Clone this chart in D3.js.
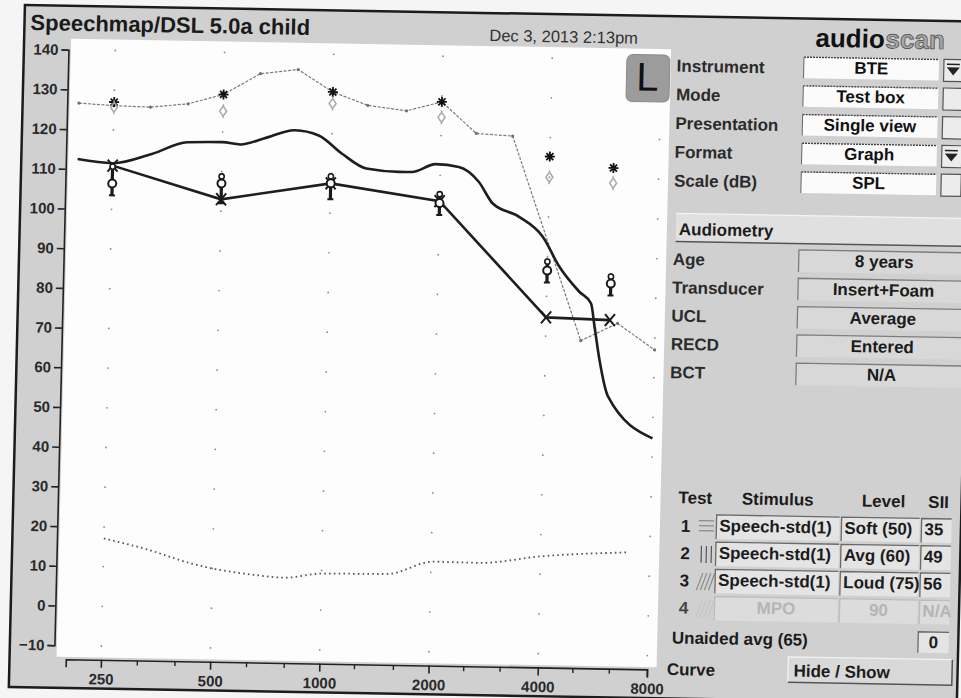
<!DOCTYPE html>
<html>
<head>
<meta charset="utf-8">
<title>Speechmap/DSL 5.0a child</title>
<script src="https://d3js.org/d3.v7.min.js"></script>
<style>
  html, body { margin: 0; padding: 0; background: #f4f4f4; }
  svg { display: block; }
  text { font-family: "Liberation Sans", Arial, sans-serif; }
</style>
</head>
<body>
<div id="chart"></div>
<script>
// ---- values ----
const majorFreqs = [250, 500, 1000, 2000, 4000, 8000];
const minorFreqs = [315, 400, 630, 800, 1250, 1600, 2500, 3150, 5000, 6300];
const dbTicks = [-10, 0, 10, 20, 30, 40, 50, 60, 70, 80, 90, 100, 110, 120, 130, 140];

// grey thin curve (MPO / UCL line)
const mpoFreq = [200, 250, 315, 400, 500, 630, 800, 1000, 1250, 1600, 2000, 2500, 3150, 5000, 6300, 8000];
const mpoDb   = [126.6, 126.1, 125.9, 126.9, 129.4, 134.8, 136.0, 130.5, 127.3, 126.1, 128.5, 120.7, 120.2, 69.0, 73.5, 67.0];

// black smooth curve
const curveFreq = [200, 250, 320, 400, 500, 560, 650, 790, 920, 1070, 1250, 1540, 1670, 1940, 2250, 2560, 2800, 3320, 3870, 4320, 4920, 5310, 5450, 5650, 6000, 8000];
const curveDb   = [112.5, 111.6, 114.1, 117.2, 117.4, 116.9, 118.5, 120.7, 119.5, 115.0, 111.4, 110.7, 110.7, 112.8, 112.2, 108.5, 103.2, 99.9, 95.0, 87.5, 81.3, 78.4, 72.5, 64.2, 55.0, 44.7];

// thresholds (X markers)
const threshFreq = [250, 500, 1000, 2000, 4000, 6000];
const threshDb   = [111.0, 103.0, 107.5, 103.5, 74.7, 74.3];

// DSL targets
const targetFreq = [250, 500, 1000, 2000, 4000, 6000];
const targetSoft = [103.5, 102.0, 103.5, 100.0, 83.5, 80.5];
const targetAvg  = [106.5, 107.0, 107.5, 103.0, 86.5, 83.5];
const targetLoud = [111.5, 109.5, 110.0, 106.0, 89.5, 86.0];
const uclStar    = [127.0, 129.4, 130.5, 128.5, 115.2, 112.6];
const uclDiamond = [125.7, 125.2, 127.6, 124.6, 110.0, 108.8];

// dotted curve near the bottom
const normFreq = [250, 330, 440, 500, 650, 790, 1000, 1520, 2030, 2730, 4000, 7000];
const normDb   = [17.1, 14.5, 11.1, 10.0, 8.6, 8.0, 9.2, 9.4, 12.7, 12.6, 14.5, 15.9];

// side panel
const settingLabels = ["Instrument", "Mode", "Presentation", "Format", "Scale (dB)"];
const settingValues = ["BTE", "Test box", "Single view", "Graph", "SPL"];
const settingIcons  = ["drop", "box", "box", "drop", "box"];
const audioLabels = ["Age", "Transducer", "UCL", "RECD", "BCT"];
const audioValues = ["8 years", "Insert+Foam", "Average", "Entered", "N/A"];
const testNums     = ["1", "2", "3", "4"];
const testStimulus = ["Speech-std(1)", "Speech-std(1)", "Speech-std(1)", "MPO"];
const testLevel    = ["Soft (50)", "Avg (60)", "Loud (75)", "90"];
const testSII      = ["35", "49", "56", "N/A"];

const W = 961, H = 698;
const font = '"Liberation Sans", Arial, sans-serif';

const svg = d3.select("#chart").append("svg")
    .attr("width", W)
    .attr("height", H);

svg.append("rect").attr("width", W).attr("height", H).attr("fill", "#f5f5f5");

// the photographed screen is slightly tilted
const g = svg.append("g")
    .attr("transform", "matrix(1,0.0175,-0.0236,1,8.24,-8.4)");

// screen frame
g.append("rect")
    .attr("x", 17).attr("y", 13)
    .attr("width", 948).attr("height", 682)
    .attr("fill", "#d0d0d0")
    .attr("stroke", "#1c1c1c")
    .attr("stroke-width", 2.5);

// header
g.append("text")
    .attr("x", 23).attr("y", 38)
    .style("font-size", "22px").style("font-weight", "bold")
    .attr("fill", "#1a1a1a")
    .text("Speechmap/DSL 5.0a child");

g.append("text")
    .attr("x", 482).attr("y", 41)
    .style("font-size", "16.5px")
    .attr("fill", "#333")
    .text("Dec 3, 2013 2:13pm");

// logo: "audio" solid, "scan" in the lighter outlined style
g.append("text")
    .attr("x", 808).attr("y", 41)
    .style("font-size", "26px").style("font-weight", "bold")
    .attr("fill", "#111")
    .text("audio");
g.append("text")
    .attr("x", 878).attr("y", 41)
    .style("font-size", "26px").style("font-weight", "bold")
    .attr("fill", "#a6a6a6").attr("stroke", "#4a4a4a").attr("stroke-width", 0.7)
    .text("scan");

// scales
const x = d3.scaleLog().domain([200, 8000]).range([73.3, 654.5]);
const y = d3.scaleLinear().domain([-10, 140]).range([652.5, 57]);

// plot area
g.append("rect")
    .attr("x", 64).attr("y", 46)
    .attr("width", 600).attr("height", 618)
    .attr("fill", "#fdfdfd");

// grid dots
g.append("g").selectAll("circle")
    .data(d3.cross(majorFreqs, dbTicks))
    .join("circle")
    .attr("cx", d => x(d[0]))
    .attr("cy", d => y(d[1]))
    .attr("r", 0.9)
    .attr("fill", "#8c8c8c");

// y axis
const yAxis = g.append("g")
    .attr("transform", "translate(61.6,0)")
    .call(d3.axisLeft(y).tickValues(dbTicks).tickSize(7).tickPadding(3));
yAxis.attr("font-family", font).attr("font-size", 15).attr("font-weight", "bold");
yAxis.selectAll("path, line").attr("stroke", "#222").attr("stroke-width", 1.6);
yAxis.selectAll("text").attr("fill", "#2a2a2a");

// x axis
const xAxis = g.append("g")
    .attr("transform", "translate(0,666.3)")
    .call(d3.axisBottom(x).tickValues(majorFreqs).tickFormat(d3.format("d"))
        .tickSize(8).tickSizeOuter(8).tickPadding(6));
xAxis.attr("font-family", font).attr("font-size", 15).attr("font-weight", "bold");
xAxis.selectAll("path, line").attr("stroke", "#222").attr("stroke-width", 1.6);
xAxis.selectAll("text").attr("fill", "#2a2a2a");

xAxis.append("g").selectAll("line")
    .data(minorFreqs)
    .join("line")
    .attr("x1", d => x(d)).attr("x2", d => x(d))
    .attr("y1", 0).attr("y2", 5)
    .attr("stroke", "#222").attr("stroke-width", 1.4);

const line = d3.line().x(d => x(d[0])).y(d => y(d[1]));
const smooth = d3.line().x(d => x(d[0])).y(d => y(d[1])).curve(d3.curveMonotoneX);

// dotted curve
g.append("path")
    .attr("d", smooth(d3.zip(normFreq, normDb)))
    .attr("fill", "none")
    .attr("stroke", "#555")
    .attr("stroke-width", 1.8)
    .attr("stroke-dasharray", "1.6,3.2");

// grey MPO line with small vertex dots
g.append("path")
    .attr("d", line(d3.zip(mpoFreq, mpoDb)))
    .attr("fill", "none")
    .attr("stroke", "#7a7a7a")
    .attr("stroke-width", 1.2)
    .attr("stroke-dasharray", "3,1.5");
g.append("g").selectAll("circle")
    .data(d3.zip(mpoFreq, mpoDb))
    .join("circle")
    .attr("cx", d => x(d[0])).attr("cy", d => y(d[1]))
    .attr("r", 1.6).attr("fill", "#707070");

// black smooth curve
g.append("path")
    .attr("d", smooth(d3.zip(curveFreq, curveDb)))
    .attr("fill", "none")
    .attr("stroke", "#1e1e1e")
    .attr("stroke-width", 2.6)
    .attr("stroke-linejoin", "round");

// threshold line + X
g.append("path")
    .attr("d", line(d3.zip(threshFreq, threshDb)))
    .attr("fill", "none")
    .attr("stroke", "#1e1e1e")
    .attr("stroke-width", 2.6);
const xMarks = g.append("g").selectAll("g")
    .data(d3.zip(threshFreq, threshDb))
    .join("g")
    .attr("transform", d => `translate(${x(d[0])},${y(d[1])})`);
xMarks.append("path")
    .attr("d", "M-5,-6L5,6M5,-6L-5,6")
    .attr("stroke", "#1e1e1e").attr("stroke-width", 2);

// targets
const tg = g.append("g").selectAll("g")
    .data(targetFreq.map((f, i) => ({ f, soft: targetSoft[i], avg: targetAvg[i], loud: targetLoud[i] })))
    .join("g");
tg.append("line")
    .attr("x1", d => x(d.f)).attr("x2", d => x(d.f))
    .attr("y1", d => y(d.soft)).attr("y2", d => y(d.loud))
    .attr("stroke", "#1a1a1a").attr("stroke-width", 3.2);
tg.append("line")
    .attr("x1", d => x(d.f) - 3).attr("x2", d => x(d.f) + 3)
    .attr("y1", d => y(d.soft)).attr("y2", d => y(d.soft))
    .attr("stroke", "#1a1a1a").attr("stroke-width", 2);
tg.append("circle")
    .attr("cx", d => x(d.f)).attr("cy", d => y(d.loud) + 3)
    .attr("r", 2.6)
    .attr("fill", "#fff").attr("stroke", "#1a1a1a").attr("stroke-width", 1.6);
tg.append("circle")
    .attr("cx", d => x(d.f)).attr("cy", d => y(d.avg))
    .attr("r", 4)
    .attr("fill", "#fff").attr("stroke", "#1a1a1a").attr("stroke-width", 2);

// UCL stars and grey diamonds
g.append("g").selectAll("path")
    .data(targetFreq.map((f, i) => [f, uclStar[i]]))
    .join("path")
    .attr("transform", d => `translate(${x(d[0])},${y(d[1])})`)
    .attr("d", "M0,-5V5M-5,0H5M-3.5,-3.5L3.5,3.5M3.5,-3.5L-3.5,3.5")
    .attr("stroke", "#111").attr("stroke-width", 1.8);
g.append("g").selectAll("path")
    .data(targetFreq.map((f, i) => [f, uclDiamond[i]]))
    .join("path")
    .attr("transform", d => `translate(${x(d[0])},${y(d[1])})`)
    .attr("d", "M0,-5L3.5,0L0,5L-3.5,0Z M0,-7V-5 M0,5V7")
    .attr("fill", "none")
    .attr("stroke", "#a8a8a8").attr("stroke-width", 1.5);

// L badge
g.append("rect")
    .attr("x", 620).attr("y", 52)
    .attr("width", 43).attr("height", 47)
    .attr("rx", 6)
    .attr("fill", "#9c9c9c").attr("stroke", "#8a8a8a");
g.append("text")
    .attr("x", 641).attr("y", 88)
    .attr("text-anchor", "middle")
    .style("font-size", "40px")
    .attr("fill", "#111")
    .text("L");

// settings block
const rowY = [68.3, 97, 125.7, 154.4, 183.1];
const labelStyle = sel => sel.style("font-size", "17px").style("font-weight", "bold").attr("fill", "#2b2b2b");

settingLabels.forEach((t, i) => {
    g.append("text").attr("x", 670).attr("y", rowY[i]).call(labelStyle).text(t);
    g.append("rect")
        .attr("x", 797).attr("y", rowY[i] - 16.7)
        .attr("width", 135).attr("height", 21)
        .attr("fill", "#fbfbfb");
    g.append("line")
        .attr("x1", 797).attr("x2", 932)
        .attr("y1", rowY[i] - 16.7).attr("y2", rowY[i] - 16.7)
        .attr("stroke", "#444").attr("stroke-width", 1.4)
        .attr("stroke-dasharray", "2,1");
    g.append("line")
        .attr("x1", 797).attr("x2", 797)
        .attr("y1", rowY[i] - 16.7).attr("y2", rowY[i] + 4.3)
        .attr("stroke", "#666").attr("stroke-width", 1);
    g.append("text")
        .attr("x", 864.5).attr("y", rowY[i] - 1)
        .attr("text-anchor", "middle")
        .call(labelStyle).attr("fill", "#111")
        .text(settingValues[i]);
    g.append("rect")
        .attr("x", 937).attr("y", rowY[i] - 17)
        .attr("width", 20).attr("height", 22)
        .attr("fill", "#ececec").attr("stroke", "#555").attr("stroke-width", 1.2);
    if (settingIcons[i] === "drop") {
        g.append("path")
            .attr("d", `M${940},${rowY[i] - 9}h13l-6.5,8z`)
            .attr("fill", "#222");
        g.append("line")
            .attr("x1", 940).attr("x2", 953)
            .attr("y1", rowY[i] - 12).attr("y2", rowY[i] - 12)
            .attr("stroke", "#222").attr("stroke-width", 1.5);
    }
});

// Audiometry header
g.append("rect")
    .attr("x", 673).attr("y", 210)
    .attr("width", 295).attr("height", 28)
    .attr("fill", "#e0e0e0");
g.append("line")
    .attr("x1", 673).attr("x2", 968).attr("y1", 238).attr("y2", 238)
    .attr("stroke", "#555").attr("stroke-width", 1.5);
g.append("line")
    .attr("x1", 673).attr("x2", 968).attr("y1", 210).attr("y2", 210)
    .attr("stroke", "#f4f4f4").attr("stroke-width", 1.2);
g.append("text").attr("x", 676).attr("y", 231.6).call(labelStyle).attr("fill", "#1c1c1c").text("Audiometry");

const audioY = [261.6, 289.9, 318.2, 346.5, 374.8];
audioLabels.forEach((t, i) => {
    g.append("text").attr("x", 670.6).attr("y", audioY[i]).call(labelStyle).text(t);
    g.append("rect")
        .attr("x", 796.5).attr("y", audioY[i] - 17.2)
        .attr("width", 172).attr("height", 22)
        .attr("fill", "#d8d8d8");
    g.append("path")
        .attr("d", `M796.5,${audioY[i] + 4.8}V${audioY[i] - 17.2}H968`)
        .attr("fill", "none").attr("stroke", "#7d7d7d").attr("stroke-width", 1.3);
    g.append("text")
        .attr("x", 882).attr("y", audioY[i] - 1)
        .attr("text-anchor", "middle")
        .call(labelStyle).attr("fill", "#1c1c1c")
        .text(audioValues[i]);
});

// Test table
const headY = 499.8;
[["Test", 681.9], ["Stimulus", 745.3], ["Level", 865.3], ["SII", 931.6]].forEach(h => {
    g.append("text").attr("x", h[1]).attr("y", headY).call(labelStyle).attr("fill", "#1c1c1c").text(h[0]);
});

const testY = [528.2, 555.4, 582.6, 609.8];
testNums.forEach((n, i) => {
    const by = testY[i] - 17.5;
    const faded = i === 3;
    const txt = faded ? "#b5b5b5" : "#1c1c1c";
    g.append("text").attr("x", 685).attr("y", testY[i]).call(labelStyle).attr("fill", i === 3 ? "#444" : "#1c1c1c").text(n);

    // pattern swatch
    const sw = g.append("g").attr("stroke", faded ? "#c4c4c4" : "#8a8a8a").attr("stroke-width", 1.2);
    if (i === 0) {
        [0, 5, 10].forEach(o => sw.append("line").attr("x1", 703).attr("x2", 718).attr("y1", by + 6 + o).attr("y2", by + 6 + o));
    } else if (i === 1) {
        [0, 5, 10].forEach(o => sw.append("line").attr("x1", 706 + o).attr("x2", 706 + o).attr("y1", by + 4).attr("y2", by + 21).attr("stroke", "#555"));
    } else {
        [0, 4, 8, 12].forEach(o => sw.append("line").attr("x1", 702 + o).attr("x2", 708 + o).attr("y1", by + 21).attr("y2", by + 4));
    }

    [[720.5, 123, testStimulus[i]], [845.5, 78, testLevel[i]], [925.5, 30, testSII[i]]].forEach((c, j) => {
        g.append("rect")
            .attr("x", c[0]).attr("y", by)
            .attr("width", c[1]).attr("height", 24)
            .attr("fill", faded ? "#dcdcdc" : "#e4e4e4");
        g.append("path")
            .attr("d", `M${c[0]},${by + 24}V${by}H${c[0] + c[1]}`)
            .attr("fill", "none")
            .attr("stroke", faded ? "#bdbdbd" : "#6a6a6a").attr("stroke-width", 1.3);
        g.append("text")
            .attr("x", faded && j < 2 ? c[0] + c[1] / 2 : c[0] + 3)
            .attr("text-anchor", faded && j < 2 ? "middle" : "start")
            .attr("y", testY[i] - 1)
            .call(labelStyle).attr("fill", txt)
            .text(c[2]);
    });
});

// Unaided average
g.append("text").attr("x", 678.6).attr("y", 640).call(labelStyle).attr("fill", "#1c1c1c").text("Unaided avg (65)");
g.append("rect").attr("x", 924.8).attr("y", 624).attr("width", 30.7).attr("height", 21).attr("fill", "#e4e4e4");
g.append("path").attr("d", "M924.8,645V624H955.5").attr("fill", "none").attr("stroke", "#6a6a6a").attr("stroke-width", 1.3);
g.append("text").attr("x", 940).attr("y", 640).attr("text-anchor", "middle").call(labelStyle).attr("fill", "#1c1c1c").text("0");

// Curve hide/show
g.append("text").attr("x", 674.3).attr("y", 671.7).call(labelStyle).attr("fill", "#1c1c1c").text("Curve");
g.append("rect").attr("x", 795.5).attr("y", 651.3).attr("width", 164).attr("height", 25.5).attr("fill", "#d9d9d9");
g.append("path").attr("d", "M795.5,676.8V651.3H959.5").attr("fill", "none").attr("stroke", "#f2f2f2").attr("stroke-width", 1.3);
g.append("path").attr("d", "M795.5,676.8H959.5V651.3").attr("fill", "none").attr("stroke", "#555").attr("stroke-width", 1.5);
g.append("text").attr("x", 801).attr("y", 671).call(labelStyle).attr("fill", "#1c1c1c").text("Hide / Show");
</script>
</body>
</html>
